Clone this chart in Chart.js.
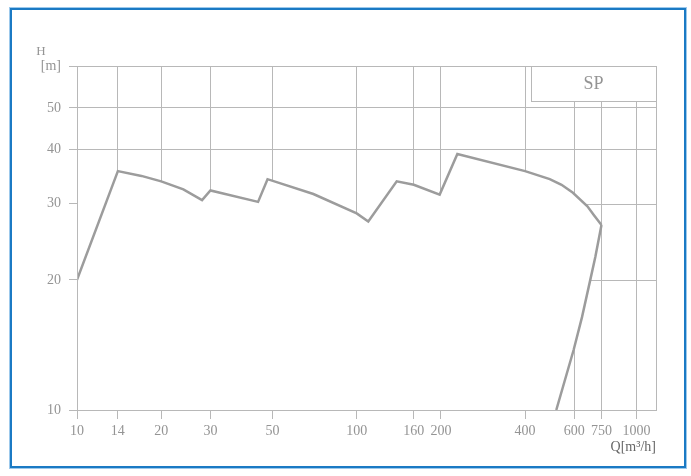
<!DOCTYPE html>
<html>
<head>
<meta charset="utf-8">
<script src="https://cdn.jsdelivr.net/npm/chart.js@4.4.0/dist/chart.umd.min.js"></script>
<style>
  html, body { margin: 0; padding: 0; background: #fff; }
  #wrap { position: relative; width: 691px; height: 476px; }
  #frame { position: absolute; left: 10px; top: 8px; width: 676px; height: 460px; box-sizing: border-box;
           border: 2px solid #1b7ac4; box-shadow: 0 0 0 1px #9cc9ec; pointer-events: none; }
</style>
</head>
<body>
<div id="wrap">
  <canvas id="chart" width="691" height="476"></canvas>
  <div id="frame"></div>
</div>
<script>
const xTicks = [10, 14, 20, 30, 50, 100, 160, 200, 400, 600, 750, 1000];
const yTicks = [10, 20, 30, 40, 50];
const qRange = [10, 1175];
const hRange = [10, 62.5];

// upper envelope of the SP range
const topQ = [10, 14, 17, 20, 24, 28, 30, 44.4, 48, 70, 100, 110, 139, 160, 198, 229, 400, 490, 540, 593, 668, 703, 750];
const topH = [20, 35.7, 34.8, 33.8, 32.4, 30.6, 32.2, 30.3, 34.2, 31.6, 28.5, 27.3, 33.8, 33.2, 31.5, 39.1, 35.7, 34.2, 33.2, 31.8, 29.6, 28.3, 26.8];

// right-hand limit, bottom up to the corner
const endQ = [517, 597, 639, 684, 713, 750];
const endH = [10, 13.8, 16.4, 20, 22.6, 26.8];

const gridColor = '#b8b8b8';
const curveColor = '#9c9c9c';
const textColor = '#949494';
const serif = "'Liberation Serif', 'DejaVu Serif', serif";

let upper = topQ.map((q, i) => ({x: q, y: topH[i]}));
// lower edge: along the axis, then up the right-hand limit
let lower = [{x: qRange[0], y: hRange[0]}].concat(endQ.map((q, i) => ({x: q, y: endH[i]})));

// grid lines at 20 and 30 are only drawn right of the range
const partialGrid = {
  id: 'partialGrid',
  beforeDatasetsDraw(chart) {
    const {ctx, chartArea, scales: {x, y}} = chart;
    let outline = upper.map(p => [p.x, p.y]).concat(lower.slice(1).reverse().slice(1).map(p => [p.x, p.y]));
    [20, 30].forEach(h => {
        let qMax = null;
        for (let i = 0; i < outline.length - 1; i++) {
            let [q0, h0] = outline[i];
            let [q1, h1] = outline[i + 1];
            if (h0 !== h1 && (h0 - h) * (h1 - h) <= 0) {
                let t = (Math.log(h) - Math.log(h0)) / (Math.log(h1) - Math.log(h0));
                let q = Math.exp(Math.log(q0) + t * (Math.log(q1) - Math.log(q0)));
                if (qMax === null || q > qMax)
                    qMax = q;
            }
        }
        if (qMax === null)
            return;
        let py = Math.round(y.getPixelForValue(h)) + 0.5;
        ctx.save();
        ctx.strokeStyle = gridColor;
        ctx.lineWidth = 1;
        ctx.beginPath();
        ctx.moveTo(x.getPixelForValue(qMax), py);
        ctx.lineTo(chartArea.right, py);
        ctx.stroke();
        ctx.restore();
    });
  },
  afterDraw(chart) {
    const {ctx, chartArea} = chart;
    // SP box
    let bx = chartArea.right - 125, by = chartArea.top;
    ctx.save();
    ctx.fillStyle = '#fff';
    ctx.fillRect(bx, by, 125, 35);
    ctx.strokeStyle = gridColor;
    ctx.lineWidth = 1;
    ctx.strokeRect(Math.round(bx) + 0.5, Math.round(by) + 0.5, 125, 35);
    ctx.fillStyle = textColor;
    ctx.font = "18px " + serif;
    ctx.textAlign = 'center';
    ctx.textBaseline = 'middle';
    ctx.fillText('SP', bx + 62.5, by + 18);
    // H above [m]
    ctx.font = "13px " + serif;
    ctx.fillText('H', chartArea.left - 36, chartArea.top - 14);
    ctx.restore();
  }
};

let chartContext = document.getElementById('chart').getContext('2d');
new Chart(chartContext, {
    type: 'line',
    data: {
        datasets: [
            {
                data: upper,
                borderColor: curveColor,
                borderWidth: 2.5,
                pointRadius: 0,
                tension: 0,
                fill: {target: 1, above: '#fff', below: '#fff'}
            },
            {
                data: lower,
                borderColor: curveColor,
                borderWidth: 2.5,
                pointRadius: 0,
                tension: 0,
                fill: false,
                segment: {borderColor: c => c.p0DataIndex === 0 ? 'rgba(0,0,0,0)' : curveColor}
            }
        ]
    },
    options: {
        responsive: false,
        animation: false,
        layout: {padding: {left: 0, top: 66, right: 35, bottom: 0}},
        plugins: {
            legend: {display: false},
            tooltip: {enabled: false},
            filler: {drawTime: 'beforeDatasetsDraw'}
        },
        scales: {
            x: {
                type: 'logarithmic',
                min: qRange[0],
                max: qRange[1],
                afterBuildTicks: s => { s.ticks = xTicks.concat([qRange[1]]).map(v => ({value: v})); },
                afterFit: s => { s.height = 66; },
                grid: {
                    color: gridColor,
                    tickColor: c => c.tick && c.tick.value === qRange[1] ? 'rgba(0,0,0,0)' : gridColor,
                    tickLength: 9,
                    lineWidth: 1
                },
                border: {color: gridColor, z: 1},
                ticks: {
                    autoSkip: false,
                    maxRotation: 0,
                    padding: 4,
                    color: textColor,
                    font: {family: serif, size: 14},
                    callback: v => xTicks.includes(v) ? String(v) : ''
                },
                title: {
                    display: true,
                    text: 'Q[m³/h]',
                    align: 'end',
                    color: '#666',
                    font: {family: serif, size: 14},
                    padding: {top: 0, bottom: 20}
                }
            },
            y: {
                type: 'logarithmic',
                min: hRange[0],
                max: hRange[1],
                afterBuildTicks: s => { s.ticks = yTicks.concat([hRange[1]]).map(v => ({value: v})); },
                afterFit: s => { s.width = 77; },
                grid: {
                    color: c => c.tick && (c.tick.value === 20 || c.tick.value === 30) ? 'rgba(0,0,0,0)' : gridColor,
                    tickColor: gridColor,
                    tickLength: 8
                },
                border: {color: gridColor, z: 1},
                ticks: {
                    padding: 8,
                    color: textColor,
                    font: {family: serif, size: 14},
                    callback: v => v === hRange[1] ? '[m]' : String(v)
                }
            }
        }
    },
    plugins: [partialGrid]
});
</script>
</body>
</html>
